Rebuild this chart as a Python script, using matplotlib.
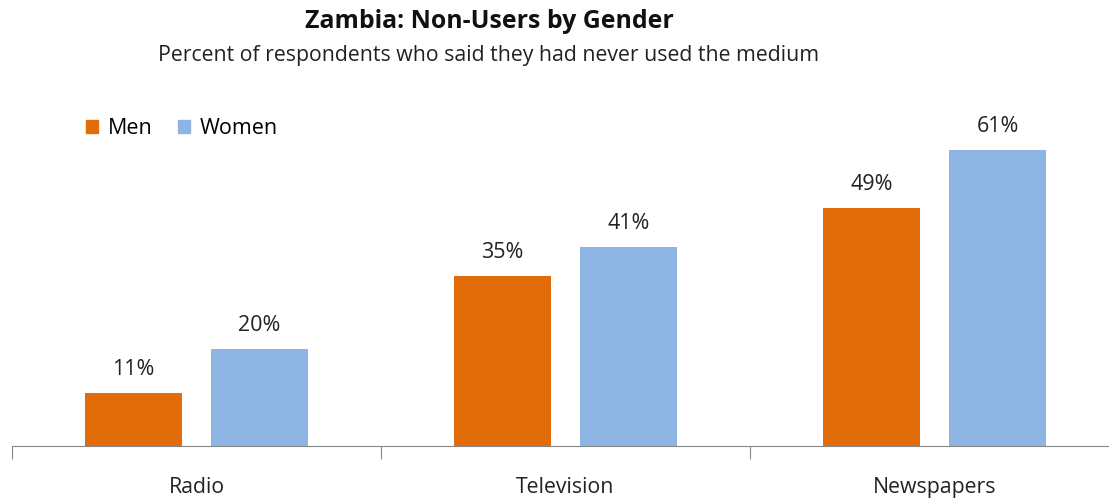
import matplotlib.pyplot as plt
import numpy as np
from matplotlib.patches import Patch

categories = ['Radio', 'Television', 'Newspapers']
men = [11, 35, 49]
women = [20, 41, 61]

orange = '#E36C0A'
blue = '#8EB4E3'

plt.rcParams['font.family'] = ['Open Sans', 'DejaVu Sans']

fig = plt.figure(figsize=(11.09, 5.00), dpi=100)
# axes spans the category slots; the last slot runs a little past the edge
ax = fig.add_axes([12 / 1109, 54 / 500, 1107 / 1109, 346 / 500])

x = np.arange(len(categories))
w = 0.265
off = 0.171
b1 = ax.bar(x - off, men, w, color=orange, label='Men')
b2 = ax.bar(x + off, women, w, color=blue, label='Women')

for bars, vals in ((b1, men), (b2, women)):
    for b, v in zip(bars, vals):
        ax.text(b.get_x() + b.get_width() / 2, v + 4.8, f'{v}%',
                ha='center', va='center', fontsize=15.5, color='#222222')

ax.set_xlim(-0.5, len(categories) - 0.5)
ax.set_ylim(0, 71.3)
ax.set_yticks([])
for s in ('left', 'right', 'top'):
    ax.spines[s].set_visible(False)
ax.spines['bottom'].set_color('#868686')

# category labels sit between tick marks at the slot edges
ax.set_xticks(np.arange(len(categories) + 1) - 0.5)
ax.set_xticklabels([])
ax.tick_params(axis='x', length=9, color='#868686', direction='out')
for i, c in enumerate(categories):
    ax.text(i, -8.6, c, ha='center', va='center', fontsize=15.3, color='#222222')

fig.text(489 / 1109, 1 - 21 / 500, 'Zambia: Non-Users by Gender', ha='center', va='center',
         fontsize=17.9, fontweight='bold', color='#111111')
fig.text(489 / 1109, 1 - 55 / 500, 'Percent of respondents who said they had never used the medium',
         ha='center', va='center', fontsize=15.3, color='#222222')

handles = [Patch(color=orange, label='Men'), Patch(color=blue, label='Women')]
fig.legend(handles=handles, loc='center left', bbox_to_anchor=(67 / 1109, 1 - 129 / 500),
           ncol=2, frameon=False, fontsize=15.5, handlelength=0.55, handleheight=0.55,
           handletextpad=0.45, columnspacing=1.2)

fig.savefig('out.png', dpi=100)
